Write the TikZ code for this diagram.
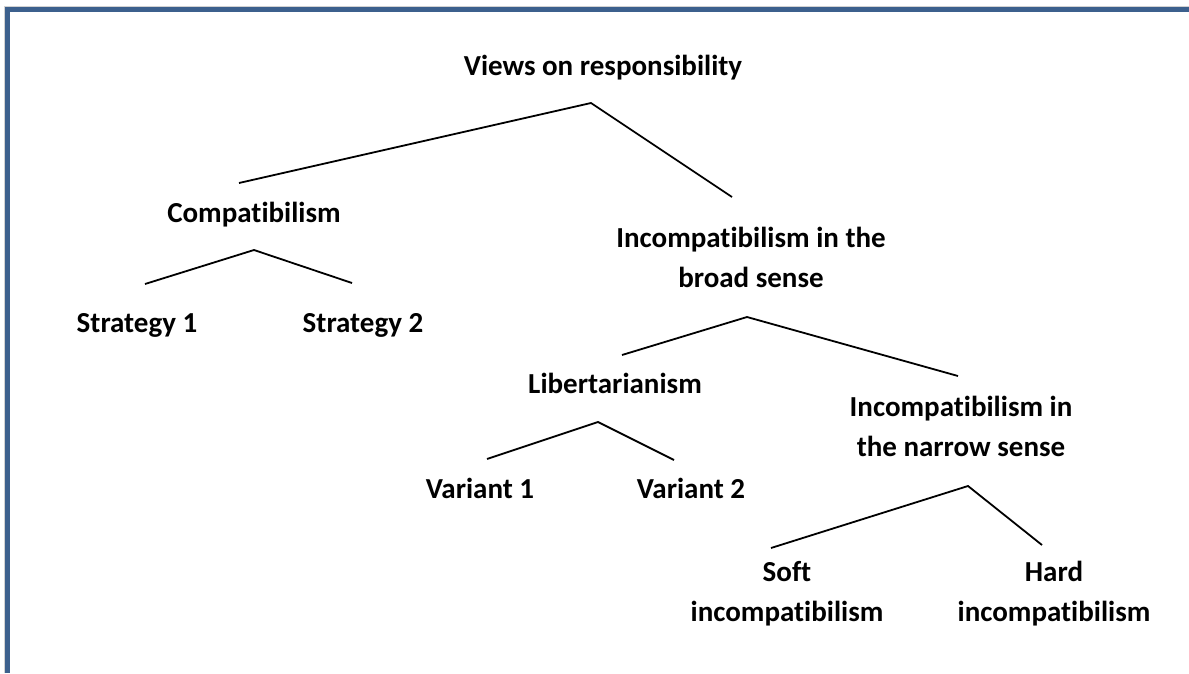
\documentclass[tikz,border=0pt]{standalone}
\usepackage{fontspec}
\setmainfont[Ligatures=NoCommon]{Carlito}
\definecolor{framec}{RGB}{60,96,141}

\begin{document}
\begin{tikzpicture}[x=1pt, y=-1pt,
    term/.style={font=\fontsize{29}{40}\selectfont\bfseries, inner sep=0pt, anchor=base, align=center},
    branch/.style={line width=1.8pt}]
    \useasboundingbox (0,0) rectangle (1189,673);

    % Frame
    \draw[gray!35, line width=1pt] (4.5,673) -- (4.5,6) -- (1189,6);
    \draw[framec, line width=5pt] (7.5,673) -- (7.5,9.5) -- (1189,9.5);

    % Define nodes (two-line nodes sit on their last baseline)
    \node[term] (views) at (603,75) {Views on responsibility}; % Root
    \node[term] (comp) at (254,222) {Compatibilism};
    \node[term] (broad) at (751,287) {Incompatibilism in the\\broad sense};
    \node[term] (strat1) at (137,332) {Strategy 1};
    \node[term] (strat2) at (363,332) {Strategy 2};
    \node[term] (libert) at (615,393) {Libertarianism};
    \node[term] (narrow) at (961,456) {Incompatibilism in\\the narrow sense};
    \node[term] (var1) at (480,498) {Variant 1};
    \node[term] (var2) at (691,498) {Variant 2};
    \node[term] (soft) at (787,621) {Soft\\incompatibilism};
    \node[term] (hard) at (1054,621) {Hard\\incompatibilism};

    % Fork points
    \coordinate (viewsfork) at (591,103);
    \coordinate (viewsleft) at (239,183);
    \coordinate (viewsright) at (732,197);
    \coordinate (compfork) at (254,250);
    \coordinate (compleft) at (145,284);
    \coordinate (compright) at (352,283);
    \coordinate (broadfork) at (747,317);
    \coordinate (broadleft) at (622,355);
    \coordinate (broadright) at (958,376);
    \coordinate (libertfork) at (598,422);
    \coordinate (libertleft) at (487,459);
    \coordinate (libertright) at (674,460);
    \coordinate (narrowfork) at (968,486);
    \coordinate (narrowleft) at (771,548);
    \coordinate (narrowright) at (1042,545);

    % Connect nodes
    \draw[branch] (viewsleft) -- (viewsfork) -- (viewsright);
    \draw[branch] (compleft) -- (compfork) -- (compright);
    \draw[branch] (broadleft) -- (broadfork) -- (broadright);
    \draw[branch] (libertleft) -- (libertfork) -- (libertright);
    \draw[branch] (narrowleft) -- (narrowfork) -- (narrowright);
\end{tikzpicture}
\end{document}
